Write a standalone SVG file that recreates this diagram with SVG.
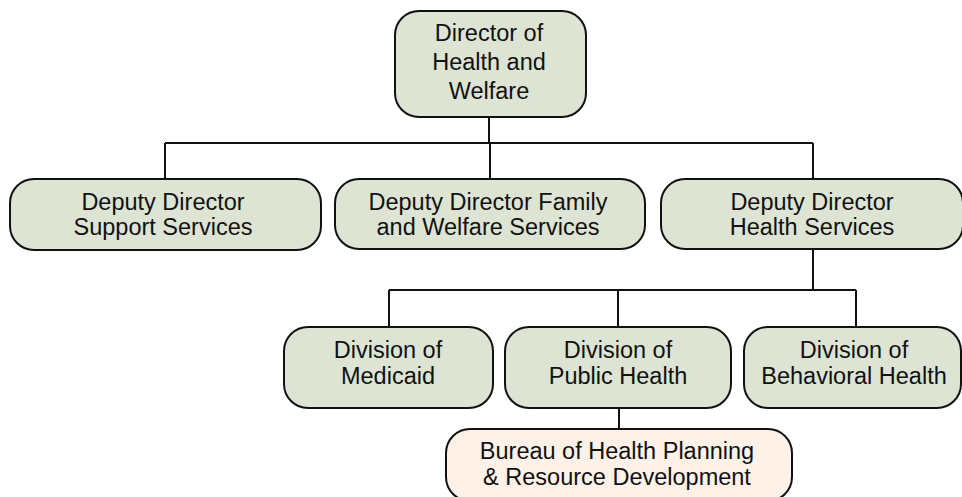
<svg xmlns="http://www.w3.org/2000/svg" width="962" height="497" viewBox="0 0 962 497">
  <style>
    .box { fill: #dde4d3; stroke: #111; stroke-width: 2; }
    .box.bureau { fill: #fdf1e8; }
    .lbl { font-family: "Liberation Sans", Arial, sans-serif; font-size: 23.5px; fill: #111; text-anchor: middle; }
    .wire { fill: none; stroke: #111; stroke-width: 2; }
  </style>
  <rect width="962" height="497" fill="#ffffff"/>

  <g id="connectors">
    <path class="wire" d="M489,117 V143 M165,143 H813 M165,143 V179 M490,143 V179 M813,143 V179"/>
    <path class="wire" d="M813,249 V290 M389,290 H856 M389,290 V327 M618,290 V327 M856,290 V327"/>
    <path class="wire" d="M619,408 V429"/>
  </g>

  <g id="director">
    <rect class="box" x="395" y="11" width="191" height="106" rx="24"/>
    <text class="lbl" x="489" y="41">Director of</text>
    <text class="lbl" x="489" y="70">Health and</text>
    <text class="lbl" x="489" y="98.5">Welfare</text>
  </g>

  <g id="support-services">
    <rect class="box" x="10" y="179" width="311" height="71" rx="24"/>
    <text class="lbl" x="163" y="209.5">Deputy Director</text>
    <text class="lbl" x="163" y="235">Support Services</text>
  </g>

  <g id="family-welfare">
    <rect class="box" x="335" y="179" width="310" height="70" rx="24"/>
    <text class="lbl" x="488" y="209.5">Deputy Director Family</text>
    <text class="lbl" x="488" y="235">and Welfare Services</text>
  </g>

  <g id="health-services">
    <rect class="box" x="661" y="179" width="302" height="70" rx="24"/>
    <text class="lbl" x="812" y="209.5">Deputy Director</text>
    <text class="lbl" x="812" y="235">Health Services</text>
  </g>

  <g id="medicaid">
    <rect class="box" x="284" y="327" width="209" height="81" rx="24"/>
    <text class="lbl" x="388" y="357.5">Division of</text>
    <text class="lbl" x="388" y="383.5">Medicaid</text>
  </g>

  <g id="public-health">
    <rect class="box" x="505" y="327" width="226" height="81" rx="24"/>
    <text class="lbl" x="618" y="357.5">Division of</text>
    <text class="lbl" x="618" y="383.5">Public Health</text>
  </g>

  <g id="behavioral-health">
    <rect class="box" x="744" y="327" width="217" height="81" rx="24"/>
    <text class="lbl" x="854" y="357.5">Division of</text>
    <text class="lbl" x="854" y="383.5">Behavioral Health</text>
  </g>

  <g id="bureau">
    <rect class="box bureau" x="446" y="429" width="346" height="72" rx="24"/>
    <text class="lbl" x="617" y="458.5">Bureau of Health Planning</text>
    <text class="lbl" x="617" y="485">&amp; Resource Development</text>
  </g>
</svg>
